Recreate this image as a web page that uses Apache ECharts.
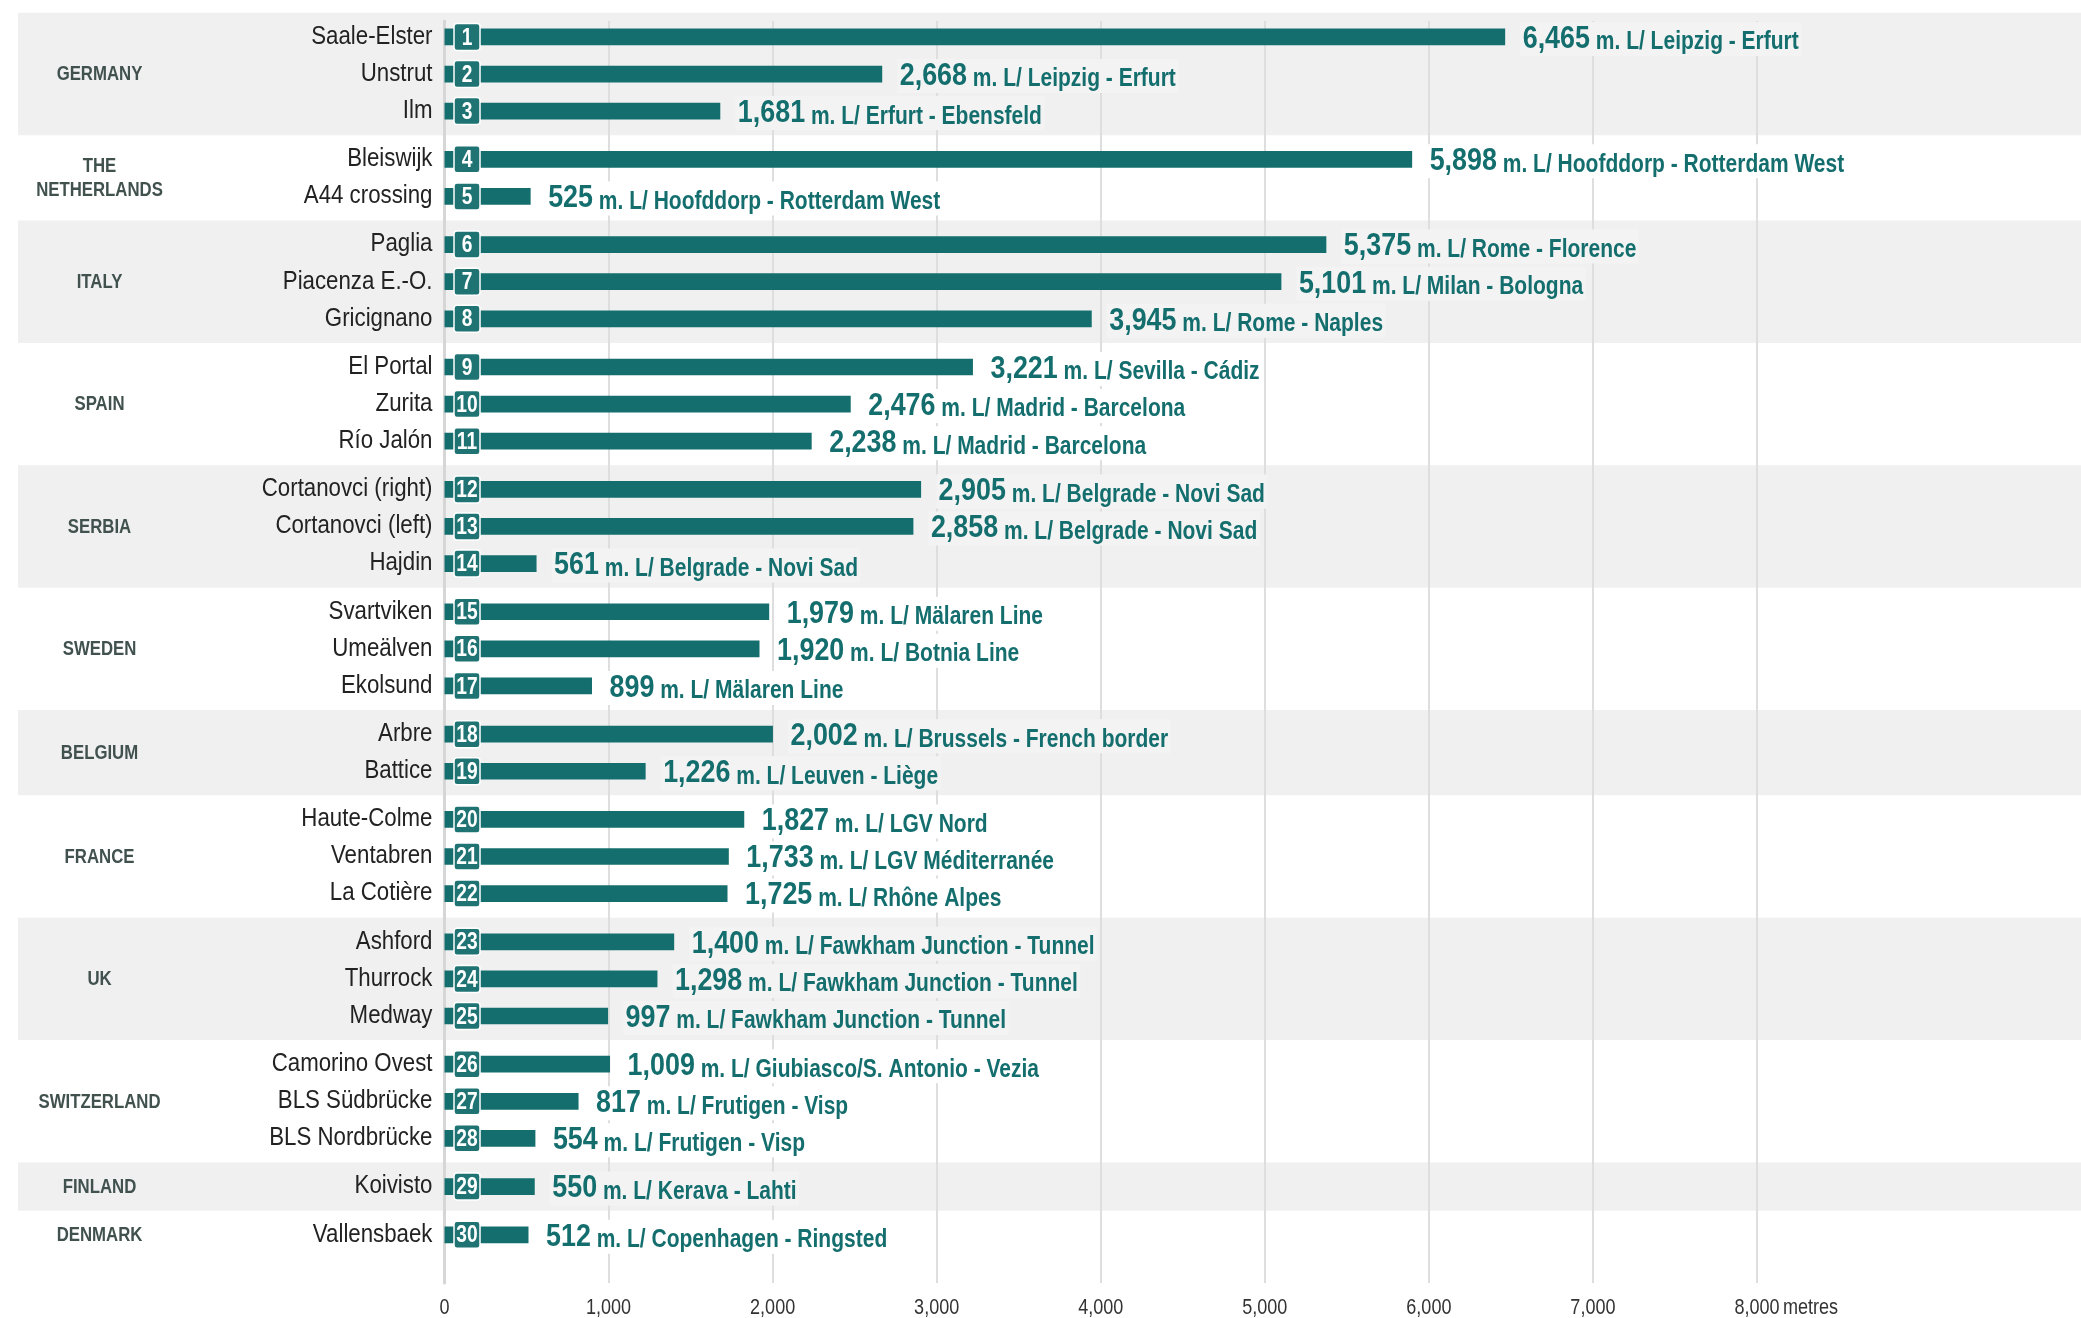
<!DOCTYPE html>
<html>
<head>
<meta charset="utf-8">
<title>Longest railway viaducts in Europe</title>
<script src="https://cdn.jsdelivr.net/npm/echarts@6/dist/echarts.min.js"></script>
<style>
  html, body { margin: 0; padding: 0; background: #ffffff; }
  #chart { width: 2081px; height: 1318px; }
</style>
</head>
<body>
<div id="chart"></div>
<script>
// Countries (top to bottom) and how many viaducts each one has in the list
const countries = ['GERMANY', 'THE\nNETHERLANDS', 'ITALY', 'SPAIN', 'SERBIA', 'SWEDEN',
  'BELGIUM', 'FRANCE', 'UK', 'SWITZERLAND', 'FINLAND', 'DENMARK'];
const groupSizes = [3, 2, 3, 3, 3, 3, 2, 3, 3, 3, 1, 1];

// Viaduct names, lengths in metres and the line they carry
const viaducts = ['Saale-Elster', 'Unstrut', 'Ilm', 'Bleiswijk', 'A44 crossing', 'Paglia',
  'Piacenza E.-O.', 'Gricignano', 'El Portal', 'Zurita', 'Río Jalón', 'Cortanovci (right)',
  'Cortanovci (left)', 'Hajdin', 'Svartviken', 'Umeälven', 'Ekolsund', 'Arbre', 'Battice',
  'Haute-Colme', 'Ventabren', 'La Cotière', 'Ashford', 'Thurrock', 'Medway', 'Camorino Ovest',
  'BLS Südbrücke', 'BLS Nordbrücke', 'Koivisto', 'Vallensbaek'];
const lengths = [6465, 2668, 1681, 5898, 525, 5375, 5101, 3945, 3221, 2476, 2238, 2905, 2858,
  561, 1979, 1920, 899, 2002, 1226, 1827, 1733, 1725, 1400, 1298, 997, 1009, 817, 554, 550, 512];
const lines = ['Leipzig - Erfurt', 'Leipzig - Erfurt', 'Erfurt - Ebensfeld',
  'Hoofddorp - Rotterdam West', 'Hoofddorp - Rotterdam West', 'Rome - Florence',
  'Milan - Bologna', 'Rome - Naples', 'Sevilla - Cádiz', 'Madrid - Barcelona',
  'Madrid - Barcelona', 'Belgrade - Novi Sad', 'Belgrade - Novi Sad', 'Belgrade - Novi Sad',
  'Mälaren Line', 'Botnia Line', 'Mälaren Line', 'Brussels - French border', 'Leuven - Liège',
  'LGV Nord', 'LGV Méditerranée', 'Rhône Alpes', 'Fawkham Junction - Tunnel',
  'Fawkham Junction - Tunnel', 'Fawkham Junction - Tunnel', 'Giubiasco/S. Antonio - Vezia',
  'Frutigen - Visp', 'Frutigen - Visp', 'Kerava - Lahti', 'Copenhagen - Ringsted'];

// Horizontal axis ticks
const tickValues = [0, 1000, 2000, 3000, 4000, 5000, 6000, 7000, 8000];
const tickLabels = ['0', '1,000', '2,000', '3,000', '4,000', '5,000', '6,000', '7,000', '8,000'];
const unitLabel = 'metres';

// ---- layout helpers ----
// Liberation Sans squeezed horizontally gives a narrow grotesque look
const FONT = "'Liberation Sans', Arial, sans-serif";
const NARROW = 0.84;
const TEAL = '#146e6e';
const BADGE = '#1f7373';
const BAND = '#f0f0f0';
const GROUP_GAP = 0.3;      // extra space between countries, in rows
const HALF_GAP = (1 + GROUP_GAP) / 2;
const Y_MIN = -0.43, Y_MAX = 33.6;

// row position on the vertical value scale: row index plus the gaps of the groups above
const rowPos = [];
const rowGroup = [];
let row = 0;
groupSizes.forEach((n, g) => {
  for (let k = 0; k < n; k++) {
    rowPos.push(row + GROUP_GAP * g);
    rowGroup.push(g);
    row++;
  }
});

// one band per country, spanning its first to last row
const bandData = [];
let first = 0;
groupSizes.forEach((n, g) => {
  bandData.push([rowPos[first] - HALF_GAP, rowPos[first + n - 1] + HALF_GAP, g]);
  first += n;
});

const rowData = lengths.map((v, i) => [v, rowPos[i], i]);
const tickData = tickValues.map((v, k) => [v, Y_MAX, k]);

const fmt = v => v.toLocaleString('en-US');
const isShaded = g => g % 2 === 0 && g < countries.length - 1;

const chart = echarts.init(document.getElementById('chart'), null, { renderer: 'canvas' });

chart.setOption({
  backgroundColor: '#ffffff',
  animation: false,
  grid: { left: 444.5, right: 324, top: 21, bottom: 35, containLabel: false, outerBoundsMode: 'none' },
  xAxis: {
    type: 'value',
    min: 0, max: 8000, interval: 1000,
    axisLine: { show: false },
    axisTick: { show: false },
    axisLabel: { show: false },
    splitLine: { show: true, lineStyle: { color: '#dedede', width: 2 } }
  },
  yAxis: {
    type: 'value',
    inverse: true,
    min: Y_MIN, max: Y_MAX,
    axisLine: { show: true, lineStyle: { color: '#d6d6d6', width: 3 } },
    axisTick: { show: false },
    axisLabel: { show: false },
    splitLine: { show: false }
  },
  series: [
    {
      // alternating country bands with the country names
      type: 'custom',
      z: -1,
      clip: false,
      silent: true,
      data: bandData,
      renderItem: (params, api) => {
        const g = api.value(2);
        const top = api.coord([0, api.value(0)])[1];
        const bottom = api.coord([0, api.value(1)])[1];
        const children = [];
        if (isShaded(g)) {
          children.push({
            type: 'rect',
            shape: { x: 18, y: top, width: 2081 - 18, height: bottom - top },
            style: { fill: BAND }
          });
        }
        children.push({
          type: 'text',
          x: 99.5, y: (top + bottom) / 2 + 1,
          scaleX: 0.86,
          style: {
            text: countries[g],
            x: 0, y: 0,
            align: 'center', verticalAlign: 'middle',
            fill: '#41514e',
            font: 'bold 19.5px ' + FONT,
            lineHeight: 24.5
          }
        });
        return { type: 'group', children };
      }
    },
    {
      // tick labels under the grid
      type: 'custom',
      clip: false,
      silent: true,
      data: tickData,
      renderItem: (params, api) => {
        const k = api.value(2);
        const c = api.coord([api.value(0), api.value(1)]);
        const children = [{
          type: 'text',
          x: c[0], y: c[1] + 25,
          scaleX: 0.82,
          style: {
            text: tickLabels[k], x: 0, y: 0,
            align: 'center', verticalAlign: 'middle',
            fill: '#333333', font: '22px ' + FONT
          }
        }];
        if (k === tickLabels.length - 1) {
          children.push({
            type: 'text',
            x: c[0] + 26, y: c[1] + 25,
            scaleX: 0.82,
            style: {
              text: unitLabel, x: 0, y: 0,
              align: 'left', verticalAlign: 'middle',
              fill: '#333333', font: '22px ' + FONT
            }
          });
        }
        return { type: 'group', children };
      }
    },
    {
      // bars, number badges, viaduct names and value labels
      type: 'custom',
      clip: false,
      data: rowData,
      renderItem: (params, api) => {
        const v = api.value(0), p = api.value(1), i = api.value(2);
        const s = api.coord([0, p]);
        const e = api.coord([v, p]);
        const h = api.size([0, 1])[1] * 0.45;
        const shaded = isShaded(rowGroup[i]);
        return {
          type: 'group',
          children: [
            {
              type: 'rect',
              shape: { x: s[0], y: s[1] - h / 2, width: e[0] - s[0], height: h },
              style: { fill: TEAL }
            },
            {
              type: 'rect',
              shape: { x: s[0] + 9.5, y: s[1] - 13.5, width: 26, height: 27, r: 3 },
              style: { fill: BADGE, stroke: '#ffffff', lineWidth: 1.5 }
            },
            {
              type: 'text',
              x: s[0] + 22.5, y: s[1] + 1,
              scaleX: 0.8,
              style: {
                text: String(i + 1), x: 0, y: 0,
                align: 'center', verticalAlign: 'middle',
                fill: '#ffffff',
                font: 'bold 24px ' + FONT
              }
            },
            {
              type: 'text',
              x: s[0] - 12, y: s[1] - 0.5,
              scaleX: 0.84,
              style: {
                text: viaducts[i], x: 0, y: 0,
                align: 'right', verticalAlign: 'middle',
                fill: '#222222',
                font: '26.5px ' + FONT
              }
            },
            {
              type: 'text',
              x: e[0] + 15, y: s[1] + 2,
              scaleX: NARROW,
              style: {
                text: '{n|' + fmt(v) + '}{t| m. L/ ' + lines[i] + '}',
                x: 0, y: 0,
                align: 'left', verticalAlign: 'middle',
                backgroundColor: shaded ? '#f3f3f3' : '#ffffff',
                padding: [1, 3, 1, 3],
                rich: {
                  n: { font: 'bold 32px ' + FONT, fill: TEAL, verticalAlign: 'bottom' },
                  t: { font: 'bold 25px ' + FONT, fill: TEAL, verticalAlign: 'bottom' }
                }
              }
            }
          ]
        };
      }
    }
  ]
});
</script>
</body>
</html>
